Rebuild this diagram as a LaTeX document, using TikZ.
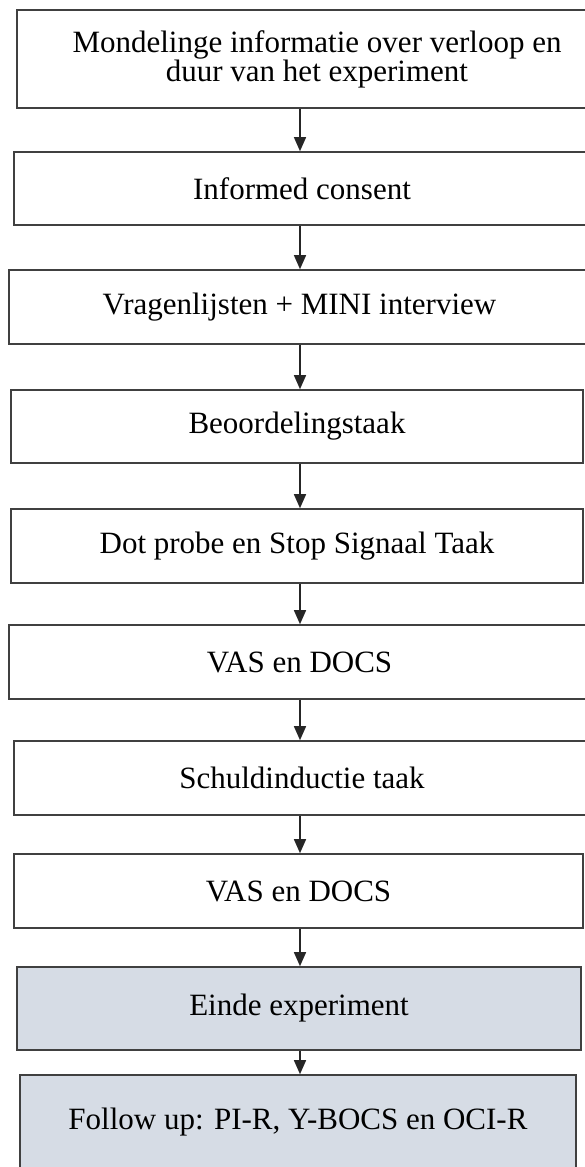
\documentclass[tikz,border=0pt]{standalone}
\usepackage{fontspec}
\setmainfont{Liberation Serif}
\usetikzlibrary{arrows.meta}
\definecolor{boxline}{RGB}{64, 64, 64}
\definecolor{endfill}{RGB}{214, 220, 229}

\begin{document}
\begin{tikzpicture}[
  x=0.5pt, y=-0.5pt,
  stepbox/.style={draw=boxline, line width=0.8pt, inner sep=0pt, align=center, font=\fontsize{15.5}{14.5}\selectfont},
  flow/.style={-{Triangle[length=7pt, width=6pt]}, line width=0.7pt, draw=black!85}
]
  \useasboundingbox (0,0) rectangle (584,1167);
  \coordinate (axis) at (300,0);

  \node[stepbox, minimum width=300pt, minimum height=49pt] (intro) at (317, 59)
    {Mondelinge informatie over verloop en\\duur van het experiment};
  \node[stepbox, minimum width=288pt, minimum height=36.5pt] (consent) at (302, 188.5) {Informed consent};
  \node[stepbox, minimum width=290.5pt, minimum height=37pt] (quest) at (299.5, 307) {Vragenlijsten + MINI interview};
  \node[stepbox, minimum width=286pt, minimum height=36.5pt] (rating) at (297, 426.5) {Beoordelingstaak};
  \node[stepbox, minimum width=286pt, minimum height=37pt] (dotprobe) at (297, 546) {Dot probe en Stop Signaal Taak};
  \node[stepbox, minimum width=290.5pt, minimum height=37pt] (vasA) at (299.5, 662) {VAS en DOCS};
  \node[stepbox, minimum width=288pt, minimum height=37pt] (guilt) at (302, 778) {Schuldinductie taak};
  \node[stepbox, minimum width=284.5pt, minimum height=37pt] (vasB) at (298.5, 891) {VAS en DOCS};
  \node[stepbox, fill=endfill, minimum width=282pt, minimum height=41.5pt] (finish) at (299, 1008.5) {Einde experiment};
  \node[stepbox, fill=endfill, minimum width=278pt, minimum height=47.5pt] (followup) at (298, 1122.5) {Follow up: PI-R, Y-BOCS en OCI-R};

  % arrows down the column
  \foreach \a/\b in {intro/consent, consent/quest, quest/rating, rating/dotprobe, dotprobe/vasA,
                     vasA/guilt, guilt/vasB, vasB/finish, finish/followup}
    \draw[flow] (\a.south -| axis) -- (\b.north -| axis);
\end{tikzpicture}
\end{document}
